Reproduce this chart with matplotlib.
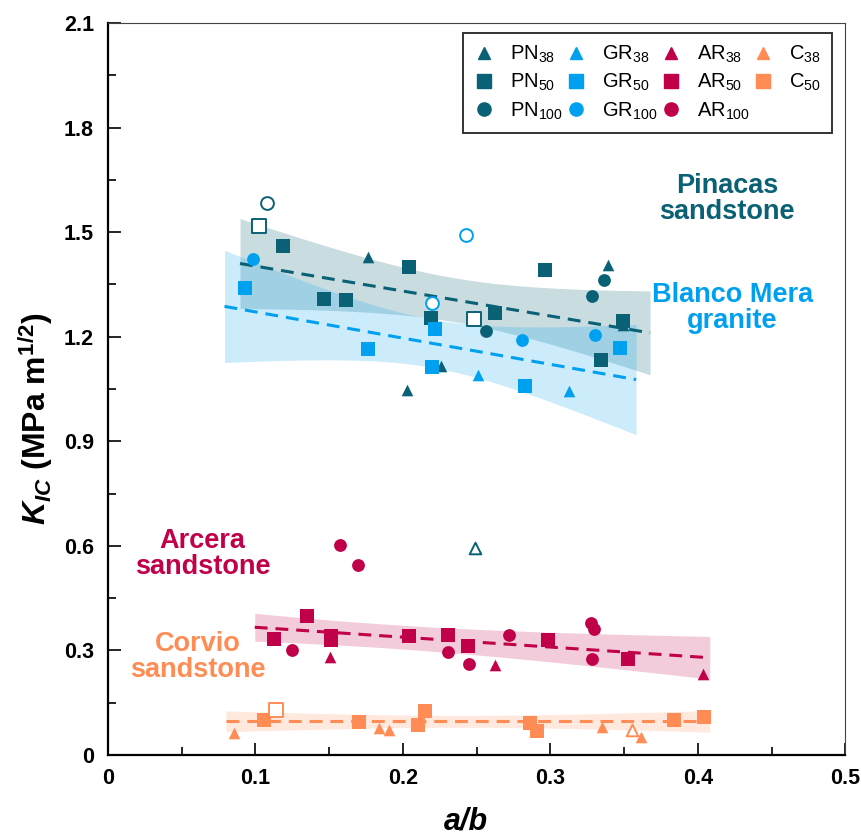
import numpy as np
import matplotlib
matplotlib.use("Agg")
import matplotlib.pyplot as plt
from matplotlib.ticker import MultipleLocator
from matplotlib.lines import Line2D

plt.rcParams['font.family'] = ['Liberation Sans', 'DejaVu Sans']
plt.rcParams['mathtext.fontset'] = 'custom'
plt.rcParams['mathtext.rm'] = 'Liberation Sans'
plt.rcParams['mathtext.it'] = 'Liberation Sans:italic'
plt.rcParams['mathtext.bf'] = 'Liberation Sans:bold'
plt.rcParams['mathtext.bfit'] = 'Liberation Sans:italic:bold'

# colours per rock
c_pn = '#0a6176'
c_gr = '#00a0f0'
c_ar = '#c1004a'
c_c = '#ff8c55'

# Pinacas sandstone (PN)
pn38_x = [0.1765, 0.339, 0.2258, 0.2029, 0.349]
pn38_y = [1.428, 1.405, 1.117, 1.046, 1.235]
pn50_x = [0.1184, 0.204, 0.2965, 0.1462, 0.1614, 0.219, 0.2624, 0.3494, 0.3342]
pn50_y = [1.459, 1.400, 1.391, 1.308, 1.305, 1.255, 1.267, 1.244, 1.133]
pn100_x = [0.336, 0.328, 0.2563]
pn100_y = [1.363, 1.318, 1.215]
pn38_out_x, pn38_out_y = [0.2488], [0.593]
pn50_out_x, pn50_out_y = [0.1026, 0.248], [1.517, 1.252]
pn100_out_x, pn100_out_y = [0.1076], [1.584]

# Blanco Mera granite (GR)
gr38_x = [0.251, 0.3123]
gr38_y = [1.091, 1.045]
gr50_x = [0.0927, 0.2219, 0.1765, 0.2199, 0.3474, 0.2827]
gr50_y = [1.339, 1.221, 1.164, 1.113, 1.167, 1.059]
gr100_x = [0.0985, 0.2807, 0.3304]
gr100_y = [1.424, 1.191, 1.204]
gr100_out_x, gr100_out_y = [0.2427, 0.220], [1.492, 1.296]

# Arcera sandstone (AR)
ar38_x = [0.1505, 0.2622, 0.4032]
ar38_y = [0.280, 0.258, 0.232]
ar50_x = [0.1347, 0.1123, 0.1514, 0.1514, 0.2038, 0.2307, 0.2439, 0.2985, 0.3523]
ar50_y = [0.399, 0.333, 0.330, 0.342, 0.340, 0.344, 0.313, 0.329, 0.275]
ar100_x = [0.1575, 0.1693, 0.1245, 0.2307, 0.245, 0.2716, 0.3275, 0.3297, 0.328]
ar100_y = [0.602, 0.5455, 0.302, 0.295, 0.260, 0.344, 0.378, 0.362, 0.275]

# Corvio sandstone (C)
c38_x = [0.0852, 0.1837, 0.1905, 0.3349, 0.3616]
c38_y = [0.062, 0.0775, 0.073, 0.0795, 0.0526]
c50_x = [0.1056, 0.1704, 0.2100, 0.2152, 0.2863, 0.2906, 0.3837, 0.4043]
c50_y = [0.0996, 0.0957, 0.087, 0.126, 0.091, 0.069, 0.1005, 0.108]
c38_out_x, c38_out_y = [0.355], [0.0718]
c50_out_x, c50_out_y = [0.1141], [0.130]

# linear trends (end points) and confidence band: centre x, half width at centre, half width at left end
pn_fit_x, pn_fit_y = [0.0895, 0.3675], [1.410, 1.211]
pn_ci = [0.235, 0.063, 0.129]
gr_fit_x, gr_fit_y = [0.0790, 0.3580], [1.287, 1.077]
gr_ci = [0.220, 0.069, 0.161]
ar_fit_x, ar_fit_y = [0.0995, 0.4080], [0.3665, 0.279]
ar_ci = [0.190, 0.034, 0.040]
c_fit_x, c_fit_y = [0.0800, 0.4080], [0.0966, 0.0966]
c_ci = [0.240, 0.017, 0.030]

fig = plt.figure(figsize=(8.62, 8.4), dpi=100)
ax = fig.add_axes([108 / 862, 1 - 755 / 840, 737.5 / 862, 732 / 840])


def trend(fx, fy, ci, col, alpha, z):
    x = np.linspace(fx[0], fx[1], 100)
    y = np.interp(x, fx, fy)
    xm, h0, h1 = ci
    k = (h1 ** 2 - h0 ** 2) / (fx[0] - xm) ** 2
    hw = np.sqrt(h0 ** 2 + k * (x - xm) ** 2)
    ax.fill_between(x, y - hw, y + hw, color=col, alpha=alpha, lw=0, zorder=z)
    ax.plot(fx, fy, color=col, lw=2.2, dashes=(4.2, 2.6), zorder=z + 2)


trend(pn_fit_x, pn_fit_y, pn_ci, c_pn, 0.22, 1)
trend(gr_fit_x, gr_fit_y, gr_ci, c_gr, 0.20, 1)
trend(ar_fit_x, ar_fit_y, ar_ci, c_ar, 0.20, 1)
trend(c_fit_x, c_fit_y, c_ci, c_c, 0.20, 1)

ms = {'^': 70, 's': 95, 'o': 85}


def pts(x, y, m, col, hollow=False):
    if hollow:
        ax.scatter(x, y, marker=m, s=ms[m], facecolors='white', edgecolors=col,
                   linewidths=1.4, zorder=5)
    else:
        ax.scatter(x, y, marker=m, s=ms[m], color=col, lw=0, zorder=5)


pts(pn38_x, pn38_y, '^', c_pn)
pts(pn50_x, pn50_y, 's', c_pn)
pts(pn100_x, pn100_y, 'o', c_pn)
pts(pn38_out_x, pn38_out_y, '^', c_pn, True)
pts(pn50_out_x, pn50_out_y, 's', c_pn, True)
pts(pn100_out_x, pn100_out_y, 'o', c_pn, True)
pts(gr38_x, gr38_y, '^', c_gr)
pts(gr50_x, gr50_y, 's', c_gr)
pts(gr100_x, gr100_y, 'o', c_gr)
pts(gr100_out_x, gr100_out_y, 'o', c_gr, True)
pts(ar38_x, ar38_y, '^', c_ar)
pts(ar50_x, ar50_y, 's', c_ar)
pts(ar100_x, ar100_y, 'o', c_ar)
pts(c38_x, c38_y, '^', c_c)
pts(c50_x, c50_y, 's', c_c)
pts(c38_out_x, c38_out_y, '^', c_c, True)
pts(c50_out_x, c50_out_y, 's', c_c, True)

# rock names
tkw = dict(fontsize=19.5, fontweight='bold', ha='center', va='center', linespacing=1.0)
ax.text(0.4197, 1.595, 'Pinacas\nsandstone', color=c_pn, **tkw)
ax.text(0.4234, 1.283, 'Blanco Mera\ngranite', color=c_gr, **tkw)
ax.text(0.0640, 0.577, 'Arcera\nsandstone', color=c_ar, **tkw)
ax.text(0.0610, 0.281, 'Corvio\nsandstone', color=c_c, **tkw)

# legend
names = ['PN', 'GR', 'AR', 'C']
cols = [c_pn, c_gr, c_ar, c_c]
sizes = [('38', '^'), ('50', 's'), ('100', 'o')]
handles = []
for n, col in zip(names, cols):
    for sz, m in sizes:
        if n == 'C' and sz == '100':
            continue
        handles.append(Line2D([], [], ls='none', marker=m, color=col, mec=col,
                              ms=9.5 if m != '^' else 9,
                              label=n + '$_{' + sz + '}$'))
leg = ax.legend(handles=handles, ncol=4, loc='upper right', bbox_to_anchor=(0.982, 0.987),
                fontsize=14.5, frameon=True, fancybox=False, edgecolor='black',
                handlelength=1.0, handletextpad=0.8, columnspacing=0.15,
                labelspacing=0.35, borderpad=0.55, borderaxespad=0)
leg.get_frame().set_linewidth(1.4)

ax.set_xlim(0, 0.5)
ax.set_ylim(0, 2.1)
ax.xaxis.set_minor_locator(MultipleLocator(0.05))
ax.yaxis.set_minor_locator(MultipleLocator(0.15))
ax.set_xticks([0, 0.1, 0.2, 0.3, 0.4, 0.5])
ax.set_xticklabels(['0', '0.1', '0.2', '0.3', '0.4', '0.5'])
ax.set_yticks([0, 0.3, 0.6, 0.9, 1.2, 1.5, 1.8, 2.1])
ax.set_yticklabels(['0', '0.3', '0.6', '0.9', '1.2', '1.5', '1.8', '2.1'])
ax.tick_params(which='both', direction='in', top=False, right=False, width=1.2)
ax.tick_params(which='major', length=9, labelsize=15.5)
ax.tick_params(axis='y', which='major', pad=10)
ax.tick_params(axis='x', which='major', pad=9)
ax.tick_params(which='minor', length=5.5)
for lab in ax.get_xticklabels() + ax.get_yticklabels():
    lab.set_fontweight('bold')

for s in ['left', 'bottom']:
    ax.spines[s].set_linewidth(1.6)
for s in ['top', 'right']:
    ax.spines[s].set_linewidth(0.8)
    ax.spines[s].set_color('#444444')

ax.set_xlabel('a/b', fontsize=22, fontweight='bold', fontstyle='italic')
ax.xaxis.set_label_coords(0.485, -0.07)
ax.set_ylabel(r'$\mathbfit{K}_{\mathbfit{IC}}$ (MPa m$^{\mathbf{1/2}}$)', fontsize=23,
              fontweight='bold')
ax.yaxis.set_label_coords(-0.072, 0.46)

fig.savefig('out.png', dpi=100)
